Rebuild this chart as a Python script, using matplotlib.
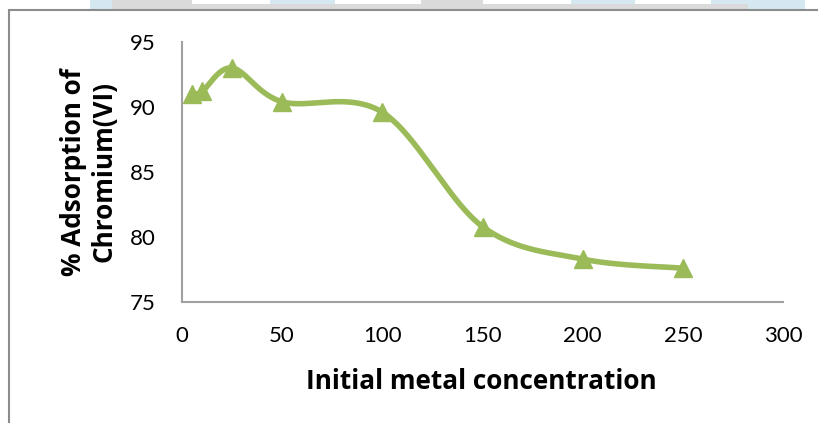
import numpy as np
import matplotlib.pyplot as plt
from matplotlib.patches import Rectangle

# Data
conc = [5, 10, 25, 50, 100, 150, 200, 250]
adsorption = [91.0, 91.2, 93.0, 90.4, 89.6, 80.8, 78.3, 77.6]
xticks = [0, 50, 100, 150, 200, 250, 300]
yticks = [75, 80, 85, 90, 95]
green = '#9BBB59'


def smooth(x, y, n=40):
    # Excel-like smoothed line (Catmull-Rom through the points)
    x = np.asarray(x, float)
    y = np.asarray(y, float)
    px = np.concatenate([[x[0]], x, [x[-1]]])
    py = np.concatenate([[y[0]], y, [y[-1]]])
    xs, ys = [], []
    t = np.linspace(0, 1, n)
    for i in range(1, len(px) - 2):
        p0, p1, p2, p3 = [np.array([px[j], py[j]]) for j in range(i - 1, i + 3)]
        c1 = p1 + (p2 - p0) / 6
        c2 = p2 - (p3 - p1) / 6
        seg = ((1 - t)[:, None] ** 3 * p1 + 3 * ((1 - t) ** 2 * t)[:, None] * c1
               + 3 * ((1 - t) * t ** 2)[:, None] * c2 + (t ** 3)[:, None] * p2)
        xs.extend(seg[:, 0])
        ys.extend(seg[:, 1])
    return xs, ys


plt.rcParams['font.family'] = ['Lato', 'DejaVu Sans']

W, H = 818, 423
fig = plt.figure(figsize=(W / 100, H / 100), dpi=100)
ax = fig.add_axes([182 / W, 1 - 302 / H, (783 - 182) / W, (302 - 42) / H])


def fig_rect(x0, x1, y0, y1, color):
    # pixel box -> figure fraction
    fig.patches.append(Rectangle((x0 / W, 1 - y1 / H), (x1 - x0) / W, (y1 - y0) / H,
                                 transform=fig.transFigure, color=color,
                                 linewidth=0, zorder=0))


# faint page decoration above the frame
for a, b in [(90, 112), (270, 335), (571, 635), (711, 805)]:
    fig_rect(a, b, 0, 10, '#d5e7f1')
for a, b in [(112, 192), (421, 483)]:
    fig_rect(a, b, 0, 10, '#dadada')
fig_rect(112, 748, 4, 10, '#dadada')

# frame around the chart
fig.patches.append(Rectangle((9 / W, -0.1), 2, 1 - 10 / H + 0.1,
                             transform=fig.transFigure, fill=False,
                             edgecolor='#8c8c8c', linewidth=1.5))

sx, sy = smooth(conc, adsorption)
ax.plot(sx, sy, color=green, linewidth=4, solid_capstyle='round', zorder=2)
ax.plot(conc, adsorption, linestyle='none', marker='^', markersize=13,
        color=green, zorder=3, clip_on=False)

ax.set_xlim(0, 300)
ax.set_ylim(75, 95)
ax.set_xticks(xticks)
ax.set_yticks(yticks)
ax.tick_params(length=0, labelsize=16)
ax.tick_params(axis='x', pad=17)
ax.tick_params(axis='y', pad=19)
for s in ['top', 'right']:
    ax.spines[s].set_visible(False)
for s in ['left', 'bottom']:
    ax.spines[s].set_color('#a0a0a0')
    ax.spines[s].set_linewidth(1.5)

ax.set_xlabel('Initial metal concentration', fontsize=18.8, fontweight='bold',
              family='Open Sans')
ax.xaxis.set_label_coords(299 / 601, -66 / 260)
ax.set_ylabel('% Adsorption of\nChromium(VI)', fontsize=18.8, fontweight='bold',
              family='Open Sans', linespacing=1.2)
ax.yaxis.set_label_coords(-64 / 601, 0.5)

fig.savefig('out.png', dpi=100)
